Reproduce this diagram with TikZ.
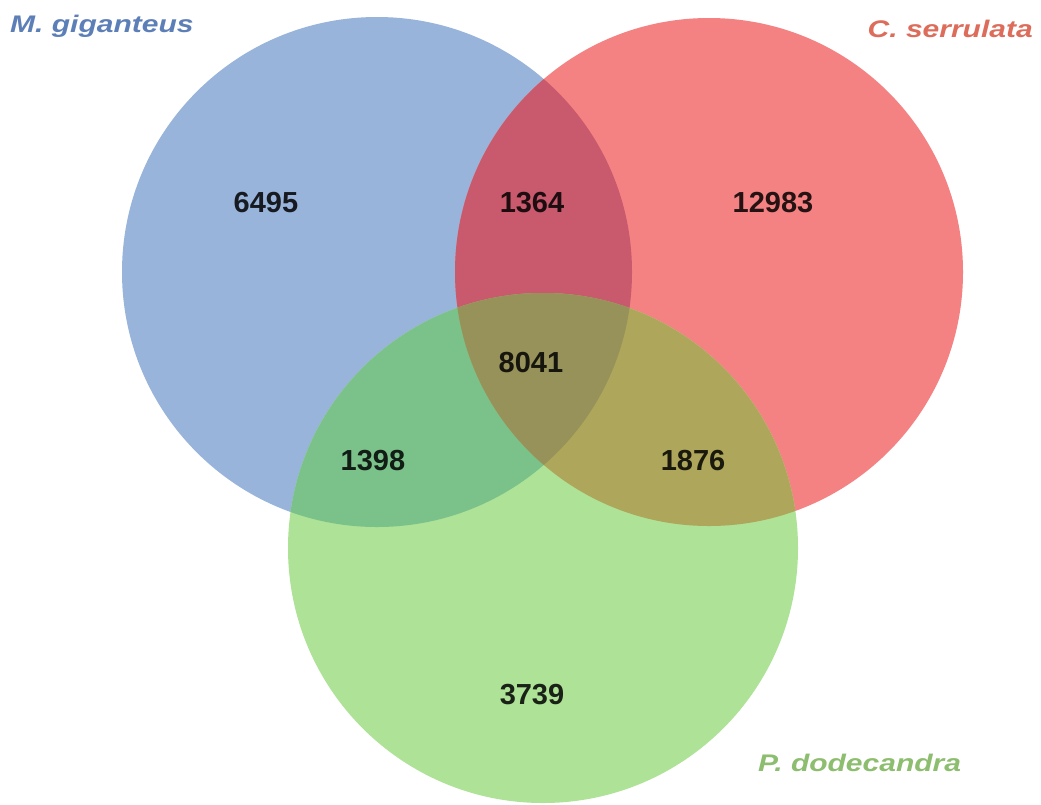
\documentclass[tikz,border=0pt]{standalone}
\usepackage{fontspec}
\setmainfont{Liberation Sans}
\newfontfamily\labfont[FakeStretch=1.25]{Liberation Sans}
\usepackage{xcolor}
\definecolor{mgblue}{HTML}{98B4DA}
\definecolor{csred}{HTML}{F58282}
\definecolor{pdgreen}{HTML}{AEE297}
\definecolor{mgcs}{HTML}{C9596D}
\definecolor{mgpd}{HTML}{7BC18A}
\definecolor{cspd}{HTML}{AEA65A}
\definecolor{allthree}{HTML}{97915A}
\definecolor{mglab}{HTML}{5D7FB8}
\definecolor{cslab}{HTML}{DD6C5A}
\definecolor{pdlab}{HTML}{8DBD6E}
\newcommand{\setM}{(377,272) circle (255pt)}
\newcommand{\setC}{(709,272) circle (254pt)}
\newcommand{\setP}{(543,548) circle (255pt)}
\usepackage{tikz}

\begin{document}
\begin{tikzpicture}[x=1pt,y=-1pt,
  count/.style={inner sep=0pt,font=\fontsize{29}{30}\selectfont\bfseries},
  setname/.style={inner sep=0pt,font=\labfont\fontsize{24}{26}\selectfont\bfseries\itshape}]

\useasboundingbox[fill=white] (0,0) rectangle (1041,804);

\fill[mgblue] \setM;
\fill[csred] \setC;
\fill[pdgreen] \setP;

\begin{scope}
\clip \setM;
\fill[mgcs] \setC;
\fill[mgpd] \setP;
\end{scope}

\begin{scope}
\clip \setC;
\fill[cspd] \setP;
\clip \setP;
\fill[allthree] \setM;
\end{scope}

%\draw[white] \setM; \draw[white] \setC; \draw[white] \setP;

\node[count,text=black!85!mgblue] (onlyM) at (266,203) {6495};
\node[count,text=black!85!mgcs] (MC) at (532,203) {1364};
\node[count,text=black!85!csred] (onlyC) at (773,203) {12983};
\node[count,text=black!85!allthree] (MCP) at (531,363) {8041};
\node[count,text=black!85!mgpd] (MP) at (373,461) {1398};
\node[count,text=black!85!cspd] (CP) at (693,461) {1876};
\node[count,text=black!85!pdgreen] (onlyP) at (532,695) {3739};

\node[setname,text=mglab,anchor=west] (nameM) at (10,26) {M. giganteus};
\node[setname,text=cslab,anchor=east] (nameC) at (1033,29) {C. serrulata};
\node[setname,text=pdlab,anchor=west] (nameP) at (758,763) {P. dodecandra};

\end{tikzpicture}
\end{document}
